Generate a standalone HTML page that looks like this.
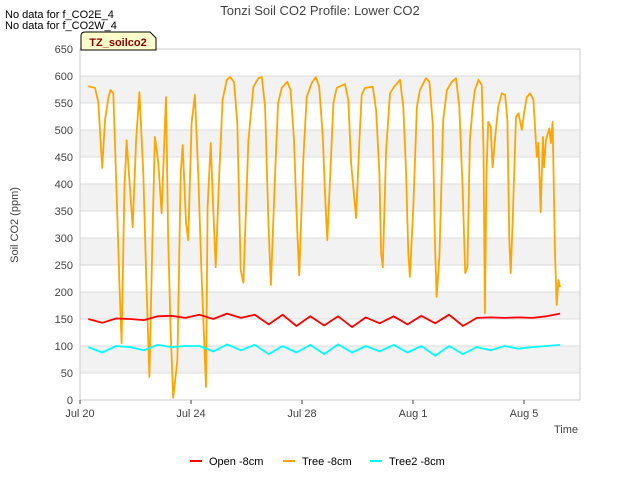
<!DOCTYPE html>
<html><head><meta charset="utf-8"><style>
body{margin:0;background:#fff;}
svg{display:block;font-family:"Liberation Sans","DejaVu Sans",sans-serif;}
</style></head><body>
<svg id="chart" width="640" height="480" viewBox="0 0 640 480">
<rect x="0" y="0" width="640" height="480" fill="#fff"/>
<g id="bands"></g>
<g id="grid"></g>
<rect x="80" y="49" width="500" height="351" fill="none" stroke="#ccc"/>
<g id="yticks"></g>
<g id="xticks"></g>
<g id="series"></g>
<text x="320" y="15" text-anchor="middle" font-size="13" fill="#444">Tonzi Soil CO2 Profile: Lower CO2</text>
<text x="5" y="18" font-size="11" fill="#000">No data for f_CO2E_4</text>
<text x="5" y="29" font-size="11" fill="#000">No data for f_CO2W_4</text>
<g>
<path d="M81,50 L81,36 Q81,32 85,32 L150,32 L156,38 L156,50 Z" fill="#ffffcc" stroke="#000" stroke-width="1"/>
<text x="118" y="46" text-anchor="middle" font-size="11" font-weight="bold" fill="#8b0000">TZ_soilco2</text>
</g>
<text transform="translate(18,225) rotate(-90)" text-anchor="middle" font-size="11" fill="#444">Soil CO2 (ppm)</text>
<text x="578" y="433" text-anchor="end" font-size="11" fill="#444">Time</text>
<g id="legend"></g>
</svg>
<script>
const yTicks=[0,50,100,150,200,250,300,350,400,450,500,550,600,650];
const xTickDays=[0,4,8,12,16];
const xTickLabels=["Jul 20","Jul 24","Jul 28","Aug 1","Aug 5"];
const seriesNames=["Open -8cm","Tree -8cm","Tree2 -8cm"];
const seriesColors=["#ff0000","#ffa500","#00ffff"];
const treeDays=[0.30,0.54,0.66,0.80,0.90,1.02,1.10,1.20,1.32,1.42,1.50,1.60,1.68,1.80,1.90,2.02,2.14,2.28,2.40,2.50,2.62,2.70,2.82,2.94,3.10,3.18,3.27,3.36,3.51,3.63,3.70,3.82,3.90,4.02,4.14,4.26,4.38,4.54,4.60,4.71,4.80,4.89,5.02,5.14,5.29,5.41,5.55,5.67,5.79,5.89,6.07,6.25,6.43,6.55,6.67,6.79,6.88,7.03,7.14,7.27,7.47,7.59,7.71,7.81,7.90,8.05,8.17,8.35,8.50,8.62,8.75,8.83,8.91,9.01,9.13,9.25,9.55,9.67,9.77,9.85,9.95,10.07,10.15,10.27,10.55,10.67,10.79,10.85,10.91,11.03,11.17,11.32,11.53,11.65,11.75,11.83,11.89,12.01,12.14,12.25,12.47,12.59,12.71,12.79,12.85,12.95,13.09,13.22,13.40,13.55,13.67,13.79,13.88,13.96,14.05,14.15,14.23,14.36,14.48,14.54,14.59,14.65,14.71,14.80,14.87,14.95,15.07,15.20,15.32,15.40,15.47,15.52,15.59,15.71,15.80,15.92,16.00,16.10,16.22,16.34,16.46,16.52,16.60,16.68,16.72,16.79,16.91,16.97,17.03,17.12,17.18,17.24,17.30];
const treeValues=[581,578,552,430,518,559,574,568,383,217,105,389,481,394,320,481,570,420,204,43,320,487,439,346,561,296,124,4,74,420,472,328,296,513,565,420,235,24,357,476,357,246,420,556,593,598,589,513,241,217,481,580,596,598,543,328,213,420,550,578,589,574,481,339,231,450,561,587,598,580,487,383,296,407,550,578,585,556,439,394,337,481,565,578,580,537,420,272,246,463,568,580,593,543,420,272,228,357,543,574,596,589,513,296,191,265,518,574,589,596,543,389,235,246,481,543,574,593,583,463,161,420,515,506,431,481,543,568,565,518,296,235,328,524,531,500,531,561,568,556,450,476,348,487,431,481,503,476,515,265,176,222,209];
const halfDays=[0.3,0.8,1.3,1.8,2.3,2.8,3.3,3.8,4.3,4.8,5.3,5.8,6.3,6.8,7.3,7.8,8.3,8.8,9.3,9.8,10.3,10.8,11.3,11.8,12.3,12.8,13.3,13.8,14.3,14.8,15.3,15.8,16.3,16.8,17.3];
const openValues=[150,143,151,150,148,155,156,152,158,150,160,152,158,140,158,137,155,138,155,135,153,142,155,140,156,142,158,137,152,153,152,153,152,155,160];
const tree2Values=[98,88,100,98,92,102,98,100,100,90,103,92,102,85,100,88,102,85,103,88,100,90,102,88,100,82,100,85,98,92,100,95,98,100,102];

const X0=80,PXD=27.75,Y0=400,PPU=0.54;
const xs=d=>X0+d*PXD;
const ys=v=>Y0-v*PPU;
const NS="http://www.w3.org/2000/svg";
function mk(tag,parent){const e=document.createElementNS(NS,tag);document.getElementById(parent).appendChild(e);return e;}

for(let i=0;i<yTicks.length-1;i++){
  if(yTicks[i]%100===50){
    const r=mk('rect','bands');
    
    
    r.setAttribute('x',80);r.setAttribute('width',500);
    r.setAttribute('y',ys(yTicks[i+1]));r.setAttribute('height',ys(yTicks[i])-ys(yTicks[i+1]));
    r.setAttribute('fill','#f2f2f2');
  }
}
yTicks.forEach(v=>{
  const l=mk('line','grid');
  
  
  l.setAttribute('x1',80);l.setAttribute('x2',580);l.setAttribute('y1',ys(v));l.setAttribute('y2',ys(v));
  l.setAttribute('stroke','#dcdcdc');
  const t=mk('text','yticks');
  
  
  t.setAttribute('x',73);t.setAttribute('y',ys(v)+4);t.setAttribute('text-anchor','end');
  t.setAttribute('font-size','11');t.setAttribute('fill','#444');t.textContent=v;
});
xTickDays.forEach((d,i)=>{
  const l=mk('line','xticks');
  
  
  l.setAttribute('x1',xs(d));l.setAttribute('x2',xs(d));l.setAttribute('y1',400);l.setAttribute('y2',404);
  l.setAttribute('stroke','#444');
  const t=mk('text','xticks');
  
  
  t.setAttribute('x',xs(d));t.setAttribute('y',417);t.setAttribute('text-anchor','middle');
  t.setAttribute('font-size','11');t.setAttribute('fill','#444');t.textContent=xTickLabels[i];
});
function line(days,vals,color,name){
  const p=mk('polyline','series');
  
  
  p.setAttribute('points',days.map((d,i)=>xs(d).toFixed(1)+','+ys(vals[i]).toFixed(1)).join(' '));
  p.setAttribute('fill','none');p.setAttribute('stroke',color);p.setAttribute('stroke-width','1.8');
  p.setAttribute('stroke-linejoin','round');
}
line(treeDays,treeValues,seriesColors[1],'tree-8cm-line');
line(halfDays,openValues,seriesColors[0],'open-8cm-line');
line(halfDays,tree2Values,seriesColors[2],'tree2-8cm-line');

const legX=[190,283,370];
seriesNames.forEach((n,i)=>{
  const l=mk('line','legend');
  
  
  l.setAttribute('x1',legX[i]);l.setAttribute('x2',legX[i]+12);l.setAttribute('y1',461);l.setAttribute('y2',461);
  l.setAttribute('stroke',seriesColors[i]);l.setAttribute('stroke-width','2');
  const t=mk('text','legend');
  
  
  t.setAttribute('x',legX[i]+19);t.setAttribute('y',465);t.setAttribute('font-size','11');t.setAttribute('fill','#000');
  t.textContent=n;
});
</script>
</body></html>
